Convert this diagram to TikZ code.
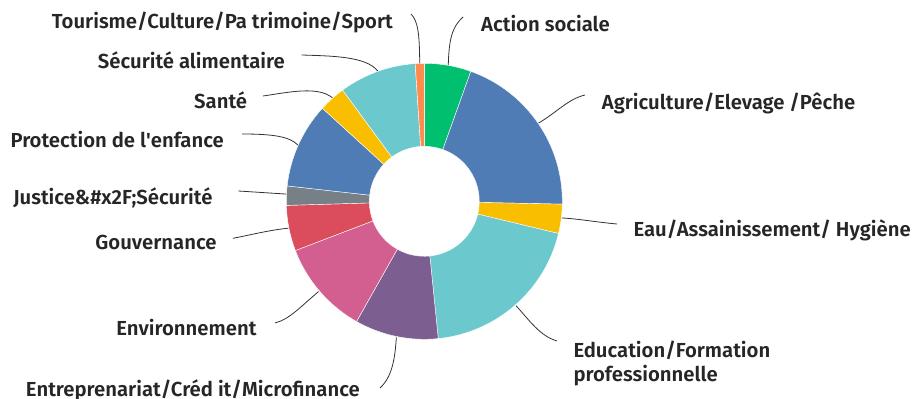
\documentclass[tikz,border=0pt]{standalone}
\usepackage{fontspec}
\setmainfont{Fira Sans}[UprightFont={* SemiBold}]
\definecolor{smgreen}{HTML}{00BF6F}
\definecolor{smblue}{HTML}{507CB6}
\definecolor{smyellow}{HTML}{F9BE00}
\definecolor{smteal}{HTML}{6BC8CD}
\definecolor{smpurple}{HTML}{7D5E90}
\definecolor{smpink}{HTML}{D25F90}
\definecolor{smred}{HTML}{DB4D5C}
\definecolor{smgray}{HTML}{768086}
\definecolor{smorange}{HTML}{FF8B4F}
\begin{document}
\begin{tikzpicture}[x=1pt,y=1pt,
  lbl/.style={inner sep=0pt,font=\fontsize{20.3}{23.3}\selectfont,text=black!85},
  lead/.style={draw=black!80,line width=0.8pt}]
\clip (0,0) rectangle (914,399);
\useasboundingbox (0,0) rectangle (914,399);
% donut
\begin{scope}[shift={(424.3,197.7)},draw=white,line width=0.4pt]
\filldraw[fill=smgreen] (90:138) arc (90:70.3:138) -- (70.3:55) arc (70.3:90:55) -- cycle;
\filldraw[fill=smblue] (70.3:138) arc (70.3:-1.2:138) -- (-1.2:55) arc (-1.2:70.3:55) -- cycle;
\filldraw[fill=smyellow] (-1.2:138) arc (-1.2:-13.5:138) -- (-13.5:55) arc (-13.5:-1.2:55) -- cycle;
\filldraw[fill=smteal] (-13.5:138) arc (-13.5:-84.2:138) -- (-84.2:55) arc (-84.2:-13.5:55) -- cycle;
\filldraw[fill=smpurple] (-84.2:138) arc (-84.2:-119.4:138) -- (-119.4:55) arc (-119.4:-84.2:55) -- cycle;
\filldraw[fill=smpink] (-119.4:138) arc (-119.4:-159.1:138) -- (-159.1:55) arc (-159.1:-119.4:55) -- cycle;
\filldraw[fill=smred] (-159.1:138) arc (-159.1:-178.3:138) -- (-178.3:55) arc (-178.3:-159.1:55) -- cycle;
\filldraw[fill=smgray] (-178.3:138) arc (-178.3:-186.4:138) -- (-186.4:55) arc (-186.4:-178.3:55) -- cycle;
\filldraw[fill=smblue] (-186.4:138) arc (-186.4:-222.4:138) -- (-222.4:55) arc (-222.4:-186.4:55) -- cycle;
\filldraw[fill=smyellow] (-222.4:138) arc (-222.4:-233.7:138) -- (-233.7:55) arc (-233.7:-222.4:55) -- cycle;
\filldraw[fill=smteal] (-233.7:138) arc (-233.7:-266.2:138) -- (-266.2:55) arc (-266.2:-233.7:55) -- cycle;
\filldraw[fill=smorange] (-266.2:138) arc (-266.2:-270:138) -- (-270:55) arc (-270:-266.2:55) -- cycle;
% leader ends on the ring
\coordinate (actring) at (80:138);
\coordinate (agriring) at (34.4:138.5);
\coordinate (eauring) at (-6.9:138.5);
\coordinate (eduring) at (-48.7:139);
\coordinate (entrering) at (-101.6:139);
\coordinate (envring) at (-139.5:139);
\coordinate (gouvring) at (-168.8:138.5);
\coordinate (justring) at (-183:138.5);
\coordinate (protring) at (-204:138.5);
\coordinate (santering) at (-228.4:138.5);
\coordinate (securing) at (-250.3:138.5);
\coordinate (tourring) at (-268.1:138);
\end{scope}
% labels
\node[lbl,anchor=base east] (tour) at (393,370.7) {Tourisme/Culture/Pa trimoine/Sport};
\node[lbl,anchor=base west] (act) at (481,367.3) {Action sociale};
\node[lbl,anchor=base west] (agri) at (601.7,289) {Agriculture/Elevage /Pêche};
\node[lbl,anchor=base west] (eau) at (633.3,162.3) {Eau/Assainissement/ Hygiène};
\node[lbl,anchor=north west,align=left] (edu) at (573.3,58) {Education/Formation\\professionnelle};
\node[lbl,anchor=base east] (entre) at (360,2.3) {Entreprenariat/Créd it/Microfinance};
\node[lbl,anchor=base east] (env) at (256.7,63) {Environnement};
\node[lbl,anchor=base east] (gouv) at (216.7,149.7) {Gouvernance};
\node[lbl,anchor=base east] (just) at (212.7,194) {Justice\&\#x2F;Sécurité};
\node[lbl,anchor=base east] (prot) at (224,251.3) {Protection de l\textquotesingle enfance};
\node[lbl,anchor=base east] (sante) at (247.3,290.7) {Santé};
\node[lbl,anchor=base east] (secu) at (285,330.7) {Sécurité alimentaire};
% free ends of the leaders
\coordinate (tourfree) at (411,385);
\coordinate (actfree) at (463,382);
\coordinate (agrifree) at (585,304);
\coordinate (eaufree) at (617,175);
\coordinate (edufree) at (557,58);
\coordinate (entrefree) at (380,11);
\coordinate (envfree) at (275,76);
\coordinate (gouvfree) at (233,160.7);
\coordinate (justfree) at (238.3,208);
\coordinate (protfree) at (242,265);
\coordinate (santefree) at (263,303);
\coordinate (secufree) at (301.7,344);
% leaders
\draw[lead] (tourfree) .. controls (418,378) and (419.5,365) .. (tourring);
\draw[lead] (actfree) .. controls (452,372) and (449,360) .. (actring);
\draw[lead] (agrifree) .. controls (568,300) and (556,286) .. (agriring);
\draw[lead] (eaufree) .. controls (595,177) and (580,180) .. (eauring);
\draw[lead] (edufree) .. controls (540,63) and (530,78) .. (eduring);
\draw[lead] (entrefree) .. controls (392,22) and (395,40) .. (entrering);
\draw[lead] (envfree) .. controls (290,80) and (300,92) .. (envring);
\draw[lead] (gouvfree) .. controls (255,165) and (270,169) .. (gouvring);
\draw[lead] (justfree) -- (justring);
\draw[lead] (protfree) .. controls (275,265) and (290,262) .. (protring);
\draw[lead] (santefree) .. controls (290,307) and (318,313) .. (santering);
\draw[lead] (secufree) .. controls (330,343) and (366,343) .. (securing);
\end{tikzpicture}
\end{document}
